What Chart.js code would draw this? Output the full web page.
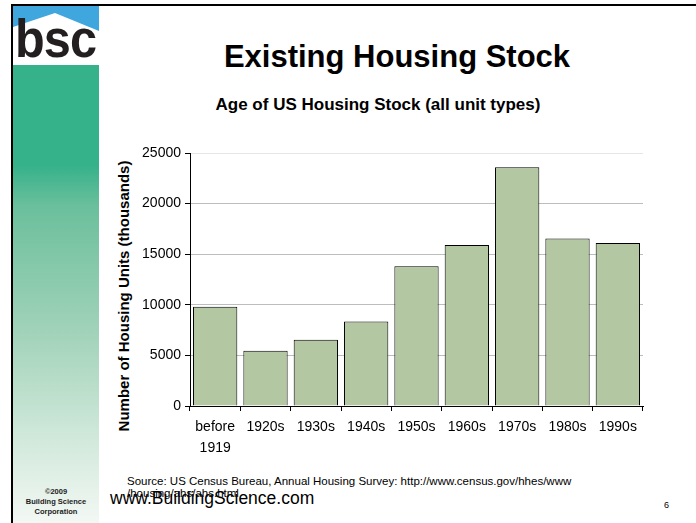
<!DOCTYPE html>
<html>
<head>
<meta charset="utf-8">
<script src="https://cdn.jsdelivr.net/npm/chart.js@4"></script>
<style>
  html, body { margin: 0; padding: 0; background: #fff; }
  body { width: 696px; height: 523px; position: relative; overflow: hidden; font-family: "Liberation Sans", Arial, sans-serif; }
  .topline { position: absolute; left: 11px; top: 4px; width: 685px; height: 2px; background: #000; }
  .leftline { position: absolute; left: 11px; top: 4px; width: 2px; height: 519px; background: #000; }
  .side { position: absolute; left: 13px; top: 6px; width: 86px; height: 517px;
    background: linear-gradient(to bottom, #36b28b 0px, #36b28b 160px, #6bbf9c 200px, #a3d3ba 330px, #d4eadd 440px, #f3f8f4 517px); }
  .sky { position: absolute; left: 13px; top: 6px; width: 86px; height: 59px; background: #3fa6de; }
  .house { position: absolute; left: 13px; top: 6px; width: 86px; height: 59px; background: #fff;
    clip-path: polygon(0px 21px, 42px 7px, 86px 25px, 86px 59px, 0px 59px); }
  .logo { position: absolute; left: 15px; top: 11px; font-weight: bold; font-size: 54px; color: #231f20;
    letter-spacing: -1px; transform: scaleX(0.9); transform-origin: left top; line-height: 54px; }
  .copy { position: absolute; left: 13px; width: 86px; top: 487px; text-align: center;
    font-family: "Liberation Sans Narrow", "Liberation Sans", Arial, sans-serif; font-weight: bold; font-size: 7.5px; line-height: 10px; color: #222; }
  .title { position: absolute; left: 97px; width: 600px; top: 39px; text-align: center; font-weight: bold; font-size: 31px; color: #000; }
  .sub { position: absolute; left: 78px; width: 600px; top: 95px; text-align: center; font-weight: bold; font-size: 17px; color: #000; }
  .ytitle { position: absolute; left: 124px; top: 296px; width: 300px; margin-left: -150px; margin-top: -9px; text-align: center;
    font-weight: bold; font-size: 15px; line-height: 18px; color: #000; transform: rotate(-90deg); }
  .src { position: absolute; left: 127px; top: 475px; font-size: 11.5px; line-height: 12px; color: #000; }
  .www { position: absolute; left: 110px; top: 488px; font-size: 17.5px; color: #000; }
  .pg { position: absolute; left: 664px; top: 500px; font-size: 9px; color: #000; }
  #wrap { position: absolute; left: 100px; top: 140px; width: 560px; height: 320px; }
</style>
</head>
<body>
<div class="side"></div>
<div class="sky"></div>
<div class="house"></div>
<div class="logo">bsc</div>
<div class="topline"></div>
<div class="leftline"></div>
<div class="copy">©2009<br>Building Science<br>Corporation</div>
<div class="title">Existing Housing Stock</div>
<div class="sub">Age of US Housing Stock (all unit types)</div>
<div class="ytitle">Number of Housing Units (thousands)</div>
<div class="src">Source: US Census Bureau, Annual Housing Survey: http://www.census.gov/hhes/www<br>/housing/ahs/ahs.html</div>
<div class="www">www.BuildingScience.com</div>
<div class="pg">6</div>
<div id="wrap"><canvas id="chart"></canvas></div>
<script>
// Age of US housing stock, thousands of units
const decades = [['before', '1919'], '1920s', '1930s', '1940s', '1950s', '1960s', '1970s', '1980s', '1990s'];
const units = [9800, 5450, 6550, 8350, 13800, 15900, 23600, 16550, 16100];
const yTicks = [0, 5000, 10000, 15000, 20000, 25000];

const FONT = '"Liberation Sans", Arial, sans-serif';

new Chart(document.getElementById('chart'), {
    type: 'bar',
    data: {
        labels: decades,
        datasets: [{
            data: units,
            backgroundColor: '#b3c8a2',
            borderColor: '#000',
            borderWidth: 1,
            categoryPercentage: 1,
            barPercentage: 0.88
        }]
    },
    options: {
        responsive: true,
        maintainAspectRatio: false,
        animation: false,
        layout: { padding: { top: 13, right: 17, left: 0, bottom: 0 } },
        plugins: {
            legend: { display: false },
            tooltip: { enabled: false }
        },
        scales: {
            x: {
                afterFit: s => { s.height = 54; },
                grid: { drawOnChartArea: false, tickLength: 5, tickColor: '#000', offset: true },
                border: { color: '#000', width: 1 },
                ticks: {
                    color: '#000',
                    padding: 6,
                    maxRotation: 0,
                    autoSkip: false,
                    font: { family: FONT, size: 14, lineHeight: 1.5 }
                }
            },
            y: {
                min: 0,
                max: 25000,
                afterFit: s => { s.width = 90; },
                afterBuildTicks: s => { s.ticks = yTicks.map(v => ({ value: v })); },
                grid: {
                    color: ctx => (ctx.tick && ctx.tick.value === 25000) ? '#e6e6e6' : '#bdbdbd',
                    tickColor: '#000',
                    tickLength: 5,
                    lineWidth: 1
                },
                border: { color: '#000', width: 1 },
                ticks: {
                    color: '#000',
                    padding: 4,
                    font: { family: FONT, size: 14 },
                    callback: v => String(v)
                }
            }
        }
    }
});
</script>
</body>
</html>
